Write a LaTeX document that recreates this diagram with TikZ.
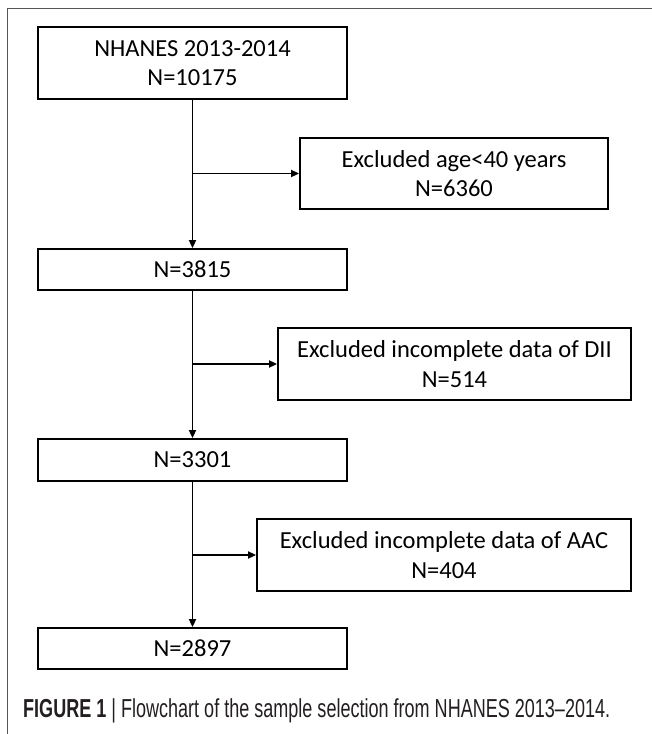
\documentclass[tikz,border=0pt]{standalone}
\usepackage{fontspec}
\usepackage{graphicx}
\setmainfont{Carlito}
\newfontfamily\capfont{Liberation Sans}
\usetikzlibrary{arrows.meta}
\begin{document}
\begin{tikzpicture}[x=1pt,y=-1pt,
  box/.style={draw=black,line width=1.8pt,rectangle,inner sep=0pt,align=center,
    font=\fontsize{24.5}{29.5}\selectfont},
  mainbox/.style={box,minimum width=309pt},
  flow/.style={line width=1.7pt,-{Triangle[length=8pt,width=7pt]}},
  frameline/.style={draw={rgb,255:red,85;green,85;blue,85},line width=1.6pt}]
\useasboundingbox (0,0) rectangle (652,734);
\draw[frameline] (7.5,734) -- (7.5,8.5) -- (652,8.5);
\node[mainbox,minimum height=72pt] (b1) at (192.5,63) {NHANES 2013-2014\\N=10175};
\node[box,minimum width=308pt,minimum height=71pt] (b2) at (454,173.5) {Excluded age<40 years\\N=6360};
\node[mainbox,minimum height=41pt] (b3) at (192.5,269.5) {N=3815};
\node[box,minimum width=353pt,minimum height=72pt] (b4) at (454.5,364) {Excluded incomplete data of DII\\N=514};
\node[mainbox,minimum height=42pt] (b5) at (192.5,460) {N=3301};
\node[box,minimum width=374pt,minimum height=72pt] (b6) at (444,555) {Excluded incomplete data of AAC\\N=404};
\node[mainbox,minimum height=41pt] (b7) at (192.5,648.5) {N=2897};
\coordinate (j1) at (b1.south |- b2.west);
\coordinate (j2) at (b3.south |- b4.west);
\coordinate (j3) at (b5.south |- b6.west);
\draw[flow] (b1.south) -- (b3.north);
\draw[flow] (j1) -- (b2.west);
\draw[flow] (b3.south) -- (b5.north);
\draw[flow] (j2) -- (b4.west);
\draw[flow] (b5.south) -- (b7.north);
\draw[flow] (j3) -- (b6.west);
\node[anchor=base west,inner sep=0pt,font=\capfont\fontsize{26}{28}\selectfont,text={rgb,255:red,35;green,31;blue,32}] (cap) at (23,717)
  {\resizebox{587pt}{\height}{\textbf{FIGURE 1} | Flowchart of the sample selection from NHANES 2013–2014.}};
\end{tikzpicture}
\end{document}
